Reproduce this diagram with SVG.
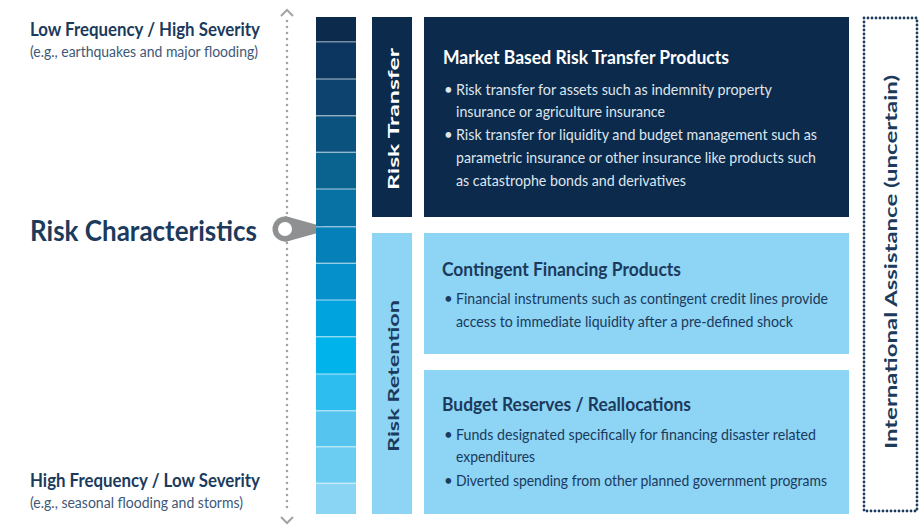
<svg xmlns="http://www.w3.org/2000/svg" width="924" height="529" viewBox="0 0 924 529">
<style>
.lt{font-family:Lato,"Liberation Sans",sans-serif;}
.h{font-weight:bold;fill:#1b3a5c;}
.sub{fill:#3e5877;font-size:15.5px;}
.tw{fill:#ffffff;font-weight:bold;font-size:19px;}
.td{fill:#1b3a5c;font-weight:bold;font-size:19px;}
.bw{fill:#dfe5ec;font-size:15px;}
.bd{fill:#1b3a5c;font-size:15px;}
.sep{stroke:#ffffff;stroke-opacity:0.45;stroke-width:1.5;}
</style>
<rect width="924" height="529" fill="#ffffff"/>
<g id="scale-labels" class="lt">
<text x="30" y="36" class="h" font-size="19" textLength="230" lengthAdjust="spacingAndGlyphs">Low Frequency / High Severity</text>
<text x="30" y="57" class="sub" textLength="228" lengthAdjust="spacingAndGlyphs">(e.g., earthquakes and major flooding)</text>
<text x="30" y="241" class="h" font-size="28" textLength="227" lengthAdjust="spacingAndGlyphs">Risk Characteristics</text>
<text x="30" y="487" class="h" font-size="19" textLength="230" lengthAdjust="spacingAndGlyphs">High Frequency / Low Severity</text>
<text x="30" y="508" class="sub" textLength="213" lengthAdjust="spacingAndGlyphs">(e.g., seasonal flooding and storms)</text>
</g>
<g id="axis">
<line x1="287" y1="21" x2="287" y2="512" stroke="#a3a3a3" stroke-width="2.6" stroke-linecap="round" stroke-dasharray="0 6"/>
<polyline points="281,16 287,10 293,16" fill="none" stroke="#a3a3a3" stroke-width="2"/>
<polyline points="281,517 287,523 293,517" fill="none" stroke="#a3a3a3" stroke-width="2"/>
</g>
<g id="pointer">
<path d="M 285 216 L 332 229 L 285 242 Z" fill="#8f9091"/>
<circle cx="285" cy="229" r="12.5" fill="#8f9091"/>
<circle cx="285" cy="229" r="7" fill="#ffffff"/>
</g>
<g id="gradient-bar">
<rect x="316" y="17" width="40" height="25" fill="#0b2a4c"/>
<rect x="316" y="41.7" width="40" height="37.3" fill="#0c3560"/>
<rect x="316" y="79" width="40" height="36.7" fill="#0d446f"/>
<rect x="316" y="115.7" width="40" height="36.6" fill="#0c527f"/>
<rect x="316" y="152.3" width="40" height="36.7" fill="#0a628f"/>
<rect x="316" y="189" width="40" height="37.7" fill="#0872a5"/>
<rect x="316" y="226.7" width="40" height="36.6" fill="#0680b8"/>
<rect x="316" y="263.3" width="40" height="36.7" fill="#0590cc"/>
<rect x="316" y="300" width="40" height="36.7" fill="#00a3de"/>
<rect x="316" y="336.7" width="40" height="37.3" fill="#00b3ea"/>
<rect x="316" y="374" width="40" height="36.7" fill="#2ebdef"/>
<rect x="316" y="410.7" width="40" height="36" fill="#55c5f0"/>
<rect x="316" y="446.7" width="40" height="36.6" fill="#6ccdf2"/>
<rect x="316" y="483.3" width="40" height="30.7" fill="#8bd5f4"/>
<line x1="316" y1="41.7" x2="356" y2="41.7" class="sep"/>
<line x1="316" y1="79" x2="356" y2="79" class="sep"/>
<line x1="316" y1="115.7" x2="356" y2="115.7" class="sep"/>
<line x1="316" y1="152.3" x2="356" y2="152.3" class="sep"/>
<line x1="316" y1="189" x2="356" y2="189" class="sep"/>
<line x1="316" y1="226.7" x2="356" y2="226.7" class="sep"/>
<line x1="316" y1="263.3" x2="356" y2="263.3" class="sep"/>
<line x1="316" y1="300" x2="356" y2="300" class="sep"/>
<line x1="316" y1="336.7" x2="356" y2="336.7" class="sep"/>
<line x1="316" y1="374" x2="356" y2="374" class="sep"/>
<line x1="316" y1="410.7" x2="356" y2="410.7" class="sep"/>
<line x1="316" y1="446.7" x2="356" y2="446.7" class="sep"/>
<line x1="316" y1="483.3" x2="356" y2="483.3" class="sep"/>
</g>
<g id="risk-transfer-label">
<rect x="372" y="17" width="40" height="200" fill="#0b2a4c"/>
<text class="lt" x="0" y="0" transform="translate(399,119) rotate(-90)" text-anchor="middle" fill="#ffffff" font-weight="bold" font-size="16" textLength="142" lengthAdjust="spacingAndGlyphs">Risk Transfer</text>
</g>
<g id="risk-retention-label">
<rect x="372" y="233" width="40" height="281" fill="#8dd4f5"/>
<text class="lt" x="0" y="0" transform="translate(399,376) rotate(-90)" text-anchor="middle" fill="#1b3a5c" font-weight="bold" font-size="16" textLength="152" lengthAdjust="spacingAndGlyphs">Risk Retention</text>
</g>
<g id="market-based" class="lt">
<rect x="424" y="17" width="425" height="200" fill="#0b2a4c"/>
<text x="443" y="64" class="tw" textLength="286" lengthAdjust="spacingAndGlyphs">Market Based Risk Transfer Products</text>
<text x="444" y="95" class="bw">•</text>
<text x="456" y="95" class="bw" textLength="316" lengthAdjust="spacingAndGlyphs">Risk transfer for assets such as indemnity property</text>
<text x="456" y="117" class="bw" textLength="209" lengthAdjust="spacingAndGlyphs">insurance or agriculture insurance</text>
<text x="444" y="140" class="bw">•</text>
<text x="456" y="140" class="bw" textLength="361" lengthAdjust="spacingAndGlyphs">Risk transfer for liquidity and budget management such as</text>
<text x="456" y="163" class="bw" textLength="360" lengthAdjust="spacingAndGlyphs">parametric insurance or other insurance like products such</text>
<text x="456" y="186" class="bw" textLength="230" lengthAdjust="spacingAndGlyphs">as catastrophe bonds and derivatives</text>
</g>
<g id="contingent" class="lt">
<rect x="424" y="233" width="425" height="121" fill="#8dd4f5"/>
<text x="442" y="276" class="td" textLength="239" lengthAdjust="spacingAndGlyphs">Contingent Financing Products</text>
<text x="444" y="304" class="bd">•</text>
<text x="456" y="304" class="bd" textLength="372" lengthAdjust="spacingAndGlyphs">Financial instruments such as contingent credit lines provide</text>
<text x="456" y="327" class="bd" textLength="337" lengthAdjust="spacingAndGlyphs">access to immediate liquidity after a pre-defined shock</text>
</g>
<g id="budget" class="lt">
<rect x="424" y="370" width="425" height="144" fill="#8dd4f5"/>
<text x="442" y="411" class="td" textLength="249" lengthAdjust="spacingAndGlyphs">Budget Reserves / Reallocations</text>
<text x="444" y="440" class="bd">•</text>
<text x="456" y="440" class="bd" textLength="360" lengthAdjust="spacingAndGlyphs">Funds designated specifically for financing disaster related</text>
<text x="456" y="462" class="bd" textLength="79" lengthAdjust="spacingAndGlyphs">expenditures</text>
<text x="444" y="486" class="bd">•</text>
<text x="456" y="486" class="bd" textLength="371" lengthAdjust="spacingAndGlyphs">Diverted spending from other planned government programs</text>
</g>
<g id="international-assistance">
<rect x="864" y="18" width="53" height="493" fill="none" stroke="#1b3a5c" stroke-width="2.8" stroke-linecap="round" stroke-dasharray="0 4"/>
<text class="lt" x="0" y="0" transform="translate(897,262) rotate(-90)" text-anchor="middle" fill="#1b3a5c" font-weight="bold" font-size="17" textLength="374" lengthAdjust="spacingAndGlyphs">International Assistance (uncertain)</text>
</g>
</svg>
